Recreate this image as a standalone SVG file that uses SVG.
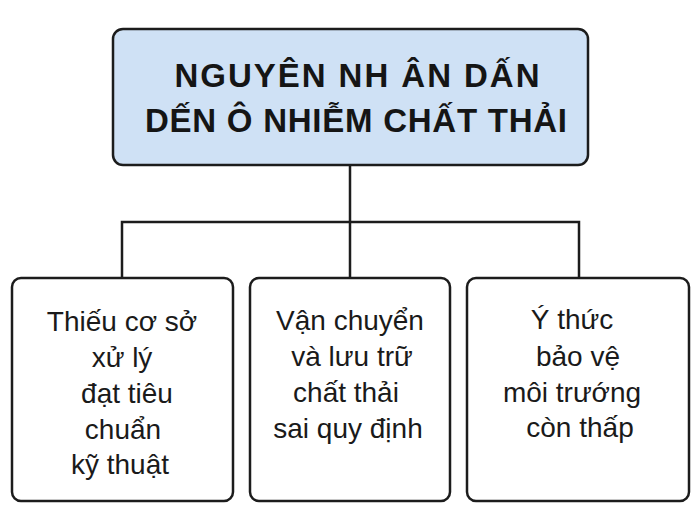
<svg xmlns="http://www.w3.org/2000/svg" width="700" height="525" viewBox="0 0 700 525">
<style>
.box{fill:#ffffff;stroke:#1c1c1c;stroke-width:2.5}
.title{fill:#cfe1f5;stroke:#1c1c1c;stroke-width:2.5}
.t{font-family:"Liberation Sans",Arial,sans-serif;font-size:28px;fill:#1a1a1a;text-anchor:middle}
.h{font-family:"Liberation Sans",Arial,sans-serif;font-size:33px;font-weight:bold;fill:#151515;text-anchor:middle}
.c{fill:none;stroke:#1c1c1c;stroke-width:2.5}
</style>
<rect width="700" height="525" fill="#ffffff"/>
<g id="connectors">
<path class="c" d="M350 165 V222 M122 278 V222 H579 V278 M350 222 V278"/>
</g>
<g id="root">
<rect class="title" x="113" y="29" width="475" height="136" rx="10"/>
<text class="h" x="357" y="87" textLength="365" lengthAdjust="spacing">NGUYÊN NH ÂN DẤN</text>
<text class="h" x="356" y="132" textLength="422" lengthAdjust="spacing">DẾN Ô NHIỄM CHẤT THẢI</text>
</g>
<g id="cause1">
<rect class="box" x="12" y="278" width="221" height="223" rx="9"/>
<text class="t" x="122" y="331">Thiếu cơ sở</text>
<text class="t" x="122" y="367">xử lý</text>
<text class="t" x="127" y="403">đạt tiêu</text>
<text class="t" x="123" y="439">chuẩn</text>
<text class="t" x="120" y="474">kỹ thuật</text>
</g>
<g id="cause2">
<rect class="box" x="250" y="278" width="200" height="223" rx="9"/>
<text class="t" x="350" y="330">Vận chuyển</text>
<text class="t" x="352" y="366">và lưu trữ</text>
<text class="t" x="346" y="402">chất thải</text>
<text class="t" x="348" y="438">sai quy định</text>
</g>
<g id="cause3">
<rect class="box" x="467" y="278" width="222" height="223" rx="9"/>
<text class="t" x="572" y="329">Ý thức</text>
<text class="t" x="578" y="366">bảo vệ</text>
<text class="t" x="572" y="402">môi trướng</text>
<text class="t" x="580" y="437">còn thấp</text>
</g>
</svg>
